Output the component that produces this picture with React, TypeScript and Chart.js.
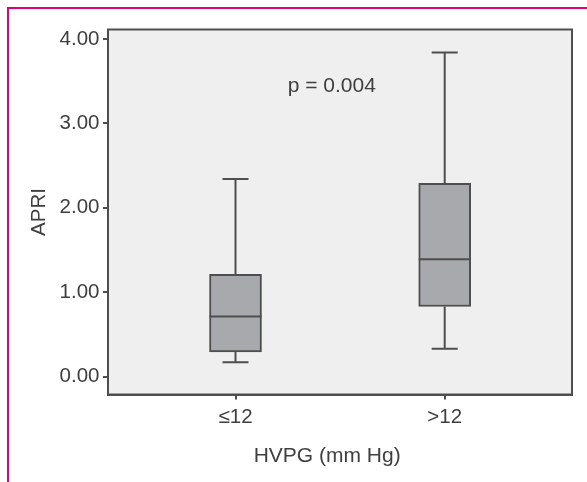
import React, { useEffect, useRef } from 'react';
import { Chart, registerables } from 'chart.js';

Chart.register(...registerables);

// ---- data ----
const categories = ['≤12', '>12'];
const categoryPositions = [1, 2];
const whiskerLow = [0.17, 0.33];
const q1 = [0.29, 0.83];
const medians = [0.71, 1.39];
const q3 = [1.21, 2.29];
const whiskerHigh = [2.34, 3.84];
const yTickValues = [0, 1, 2, 3, 4];
const yTickLabels = ['0.00', '1.00', '2.00', '3.00', '4.00'];
const annotationText = 'p = 0.004';
const annotationX = 1.46;
const annotationY = 3.44;
const xTitle = 'HVPG (mm Hg)';
const xTitleX = 1.438;
const yTitle = 'APRI';

// ---- styles ----
const FONT = '"Liberation Sans", Arial, sans-serif';
const TEXT = '#3f3f3f';
const LINE = '#4e4e4e';
const BOX_FILL = '#a8a9ac';
const PLOT_BG = '#efefef';
const MAGENTA = '#e2007a';

const boxPlugin = {
  id: 'boxExtras',
  beforeDraw(chart: any) {
    const { ctx, chartArea: a } = chart;
    ctx.save();
    ctx.fillStyle = PLOT_BG;
    ctx.fillRect(a.left, a.top, a.right - a.left, a.bottom - a.top);
    ctx.restore();
  },
  beforeDatasetsDraw(chart: any) {
    const { ctx, scales } = chart;
    ctx.save();
    ctx.strokeStyle = LINE;
    ctx.lineWidth = 2;
    categoryPositions.forEach((p, i) => {
      const x = scales.x.getPixelForValue(p);
      const yHi = scales.y.getPixelForValue(whiskerHigh[i]);
      const yQ3 = scales.y.getPixelForValue(q3[i]);
      const yQ1 = scales.y.getPixelForValue(q1[i]);
      const yLo = scales.y.getPixelForValue(whiskerLow[i]);
      ctx.beginPath();
      ctx.moveTo(x, yHi);
      ctx.lineTo(x, yQ3);
      ctx.moveTo(x, yQ1);
      ctx.lineTo(x, yLo);
      ctx.moveTo(x - 13, yHi);
      ctx.lineTo(x + 13, yHi);
      ctx.moveTo(x - 13, yLo);
      ctx.lineTo(x + 13, yLo);
      ctx.stroke();
    });
    ctx.restore();
  },
  afterDatasetsDraw(chart: any) {
    const { ctx, scales, chartArea: a } = chart;
    ctx.save();
    ctx.strokeStyle = LINE;
    ctx.lineWidth = 2;
    categoryPositions.forEach((p, i) => {
      const x = scales.x.getPixelForValue(p);
      const ym = scales.y.getPixelForValue(medians[i]);
      ctx.beginPath();
      ctx.moveTo(x - 26, ym);
      ctx.lineTo(x + 26, ym);
      ctx.stroke();
    });
    ctx.strokeRect(a.left, a.top, a.right - a.left, a.bottom - a.top);
    ctx.fillStyle = TEXT;
    ctx.font = `21px ${FONT}`;
    ctx.textAlign = 'center';
    ctx.textBaseline = 'middle';
    ctx.fillText(annotationText, scales.x.getPixelForValue(annotationX), scales.y.getPixelForValue(annotationY));
    ctx.fillText(xTitle, scales.x.getPixelForValue(xTitleX), a.bottom + 61.5);
    ctx.restore();
  },
};

export default function App() {
  const canvasRef = useRef<HTMLCanvasElement | null>(null);

  useEffect(() => {
    const canvas = canvasRef.current;
    if (!canvas) return;
    const chart = new Chart(canvas, {
      type: 'bar',
      data: {
        datasets: [
          {
            data: categoryPositions.map((p, i) => ({ x: p, y: [q1[i], q3[i]] })) as any,
            backgroundColor: BOX_FILL,
            borderColor: LINE,
            borderWidth: 2,
            borderSkipped: false,
            barThickness: 52,
            grouped: false,
          } as any,
        ],
      },
      options: {
        animation: false,
        responsive: false,
        devicePixelRatio: 1,
        layout: { padding: { top: 29.5, right: 15, left: 0, bottom: 0 } },
        plugins: { legend: { display: false }, tooltip: { enabled: false }, title: { display: false } },
        scales: {
          x: {
            type: 'linear',
            offset: false,
            min: 0.3905,
            max: 2.6085,
            afterBuildTicks: (s: any) => {
              s.ticks = categoryPositions.map((v) => ({ value: v }));
            },
            afterFit: (s: any) => {
              s.height = 87.5;
            },
            ticks: {
              callback: (v: any) => categories[categoryPositions.indexOf(v)],
              font: { family: FONT, size: 20.5 },
              color: TEXT,
              padding: 6,
              maxRotation: 0,
              autoSkip: false,
            },
            grid: { offset: false, drawOnChartArea: false, drawTicks: true, tickLength: 5, color: LINE, lineWidth: 2 },
            border: { display: true, color: LINE, width: 2 },
          },
          y: {
            type: 'linear',
            min: -0.2133,
            max: 4.1124,
            afterBuildTicks: (s: any) => {
              s.ticks = yTickValues.map((v) => ({ value: v }));
            },
            afterFit: (s: any) => {
              s.width = 108;
            },
            ticks: {
              callback: (v: any) => yTickLabels[yTickValues.indexOf(v)],
              font: { family: FONT, size: 20.5 },
              color: TEXT,
              padding: 3.5,
            },
            grid: { drawOnChartArea: false, drawTicks: true, tickLength: 5, color: LINE, lineWidth: 2 },
            border: { display: true, color: LINE, width: 2 },
            title: {
              display: true,
              text: yTitle,
              font: { family: FONT, size: 20.5 },
              color: TEXT,
              padding: { top: 27, bottom: 0 },
            },
          },
        },
      },
      plugins: [boxPlugin],
    } as any);
    return () => chart.destroy();
  }, []);

  return (
    <div style={{ position: 'fixed', left: 0, top: 0, width: 587, height: 482, background: '#ffffff', overflow: 'hidden' }}>
      <canvas ref={canvasRef} width={587} height={482} style={{ position: 'absolute', left: 0, top: 0 }} />
      <div style={{ position: 'absolute', left: 7, top: 7, right: 0, height: 2, background: MAGENTA }} />
      <div style={{ position: 'absolute', left: 7, top: 7, bottom: 0, width: 2, background: MAGENTA }} />
    </div>
  );
}
